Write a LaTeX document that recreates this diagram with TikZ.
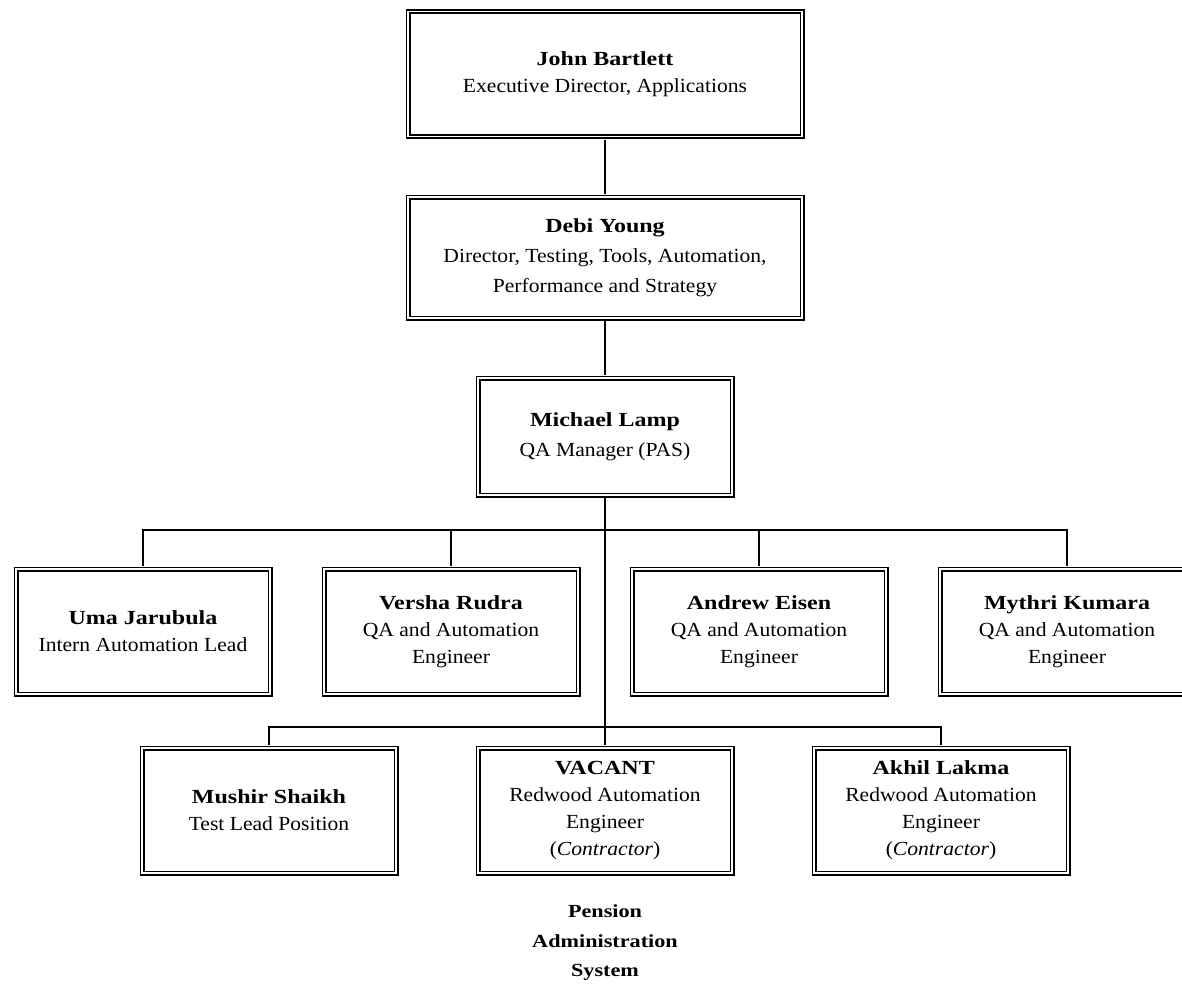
\documentclass[tikz,border=0pt]{standalone}
\usepackage{fontspec}
\setmainfont{Liberation Serif}[FakeStretch=1.08,BoldFeatures={FakeStretch=1.2}]
\usetikzlibrary{positioning}

\begin{document}
\begin{tikzpicture}[x=1pt,y=-1pt,
    orgbox/.style={draw,double,line width=1.6pt,double distance=1.8pt,inner sep=0pt,
      minimum width=254pt,minimum height=125pt,align=center,
      font=\fontsize{20}{27}\selectfont},
    link/.style={line width=1.6pt,shorten <=2.5pt,shorten >=2.5pt}]
    \useasboundingbox (0,0) rectangle (1182,985);
    \node[orgbox,minimum width=394pt] (jb) at (605,74) {\textbf{John Bartlett}\\Executive Director, Applications};
    \node[orgbox,minimum width=394pt,minimum height=121pt,font=\fontsize{20}{30}\selectfont] (dy) at (605,257.5) {\textbf{Debi Young}\\Director, Testing, Tools, Automation,\\Performance and Strategy};
    \node[orgbox,minimum height=117pt,font=\fontsize{20}{30}\selectfont] (ml) at (605,436.5) {\textbf{Michael Lamp}\\QA Manager (PAS)};
    \node[orgbox] (uj) at (143,631.5) {\textbf{Uma Jarubula}\\Intern Automation Lead};
    \node[orgbox] (vr) at (451,631.5) {\textbf{Versha Rudra}\\QA and Automation\\Engineer};
    \node[orgbox] (ae) at (759,631.5) {\textbf{Andrew Eisen}\\QA and Automation\\Engineer};
    \node[orgbox] (mk) at (1067,631.5) {\textbf{Mythri Kumara}\\QA and Automation\\Engineer};
    \node[orgbox] (ms) at (269,810.5) {\textbf{Mushir Shaikh}\\Test Lead Position};
    \node[orgbox] (vc) at (605,810.5) {\textbf{VACANT}\\Redwood Automation\\Engineer\\(\textit{Contractor})};
    \node[orgbox] (al) at (941,810.5) {\textbf{Akhil Lakma}\\Redwood Automation\\Engineer\\(\textit{Contractor})};
    \node[align=center,font=\bfseries\fontsize{18.5}{29.5}\selectfont] (pas) at (605,943) {Pension\\Administration\\System};
    \coordinate (bus1) at (605,530);
    \coordinate (bus2) at (605,727);
    \draw[link] (jb) -- (dy);
    \draw[link] (dy) -- (ml);
    \draw[link] (ml) -- (vc);
    \draw[link] (uj.north) |- (bus1) -| (mk.north);
    \draw[link,shorten >=0pt] (vr.north) -- (vr.north |- bus1);
    \draw[link,shorten >=0pt] (ae.north) -- (ae.north |- bus1);
    \draw[link] (ms.north) |- (bus2) -| (al.north);
\end{tikzpicture}
\end{document}
